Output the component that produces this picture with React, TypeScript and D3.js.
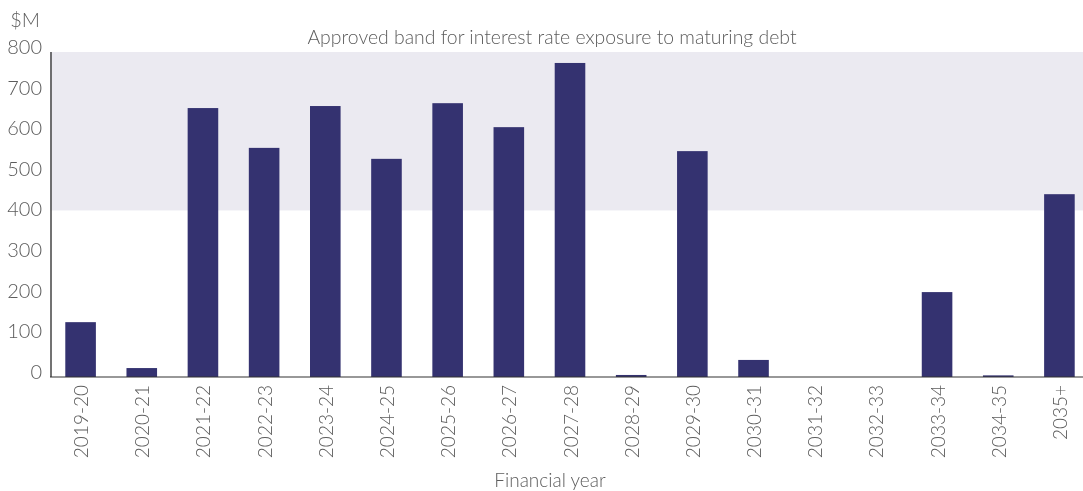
import React from "react";
import * as d3 from "d3";

const categories = ["2019-20","2020-21","2021-22","2022-23","2023-24","2024-25","2025-26","2026-27","2027-28","2028-29","2029-30","2030-31","2031-32","2032-33","2033-34","2034-35","2035+"];
const values = [135, 22, 662, 564, 667, 537, 674, 615, 773, 5, 556, 42, 0, 0, 209, 4, 450];
const yTicks = [0, 100, 200, 300, 400, 500, 600, 700, 800];
const band = [410, 800];
const title = "Approved band for interest rate exposure to maturing debt";
const xTitle = "Financial year";
const yUnit = "$M";

const W = 1083, H = 491;
const left = 50, right = 1090, top = 52, bottom = 377;
const font = "Lato, 'Noto Sans', sans-serif";
const textColor = "#5c5c5c";

export default function App() {
  const x = d3.scaleBand<string>().domain(categories).range([left, right]).paddingInner(0.5).paddingOuter(0.25);
  const y = d3.scaleLinear().domain([0, 800]).range([bottom, top]);
  return (
    <div style={{ position: "fixed", left: 0, top: 0 }}>
      <svg width={W} height={H} style={{ display: "block", fontFamily: font }}>
        <rect x={left} y={y(band[1])} width={W - left} height={y(band[0]) - y(band[1])} fill="#ebeaf1" />
        {categories.map((c, i) => (
          <rect key={c} x={x(c)} y={y(values[i])} width={x.bandwidth()} height={bottom - y(values[i])} fill="#343270" />
        ))}
        <line x1={left + 1} x2={left + 1} y1={top} y2={bottom} stroke="#444" strokeWidth={1.5} />
        <line x1={left} x2={W} y1={bottom} y2={bottom} stroke="#333" strokeWidth={1.2} />
        {yTicks.map(t => (
          <text key={t} x={42} y={y(t) - 3} textAnchor="end" dominantBaseline="middle" fontSize={20} fontWeight={300} fill={textColor}>{t}</text>
        ))}
        <text x={40} y={22} textAnchor="end" dominantBaseline="middle" fontSize={20} fontWeight={300} fill={textColor}>{yUnit}</text>
        <text x={552} y={44} textAnchor="middle" fontSize={19.4} fontWeight={300} fill={textColor}>{title}</text>
        {categories.map(c => (
          <text key={c} transform={`translate(${(x(c) as number) + x.bandwidth() / 2},385) rotate(-90)`} textAnchor="end" dominantBaseline="central" fontSize={19} fontWeight={300} fill={textColor}>{c}</text>
        ))}
        <text x={550} y={487} textAnchor="middle" fontSize={19} fontWeight={300} fill={textColor}>{xTitle}</text>
      </svg>
    </div>
  );
}
